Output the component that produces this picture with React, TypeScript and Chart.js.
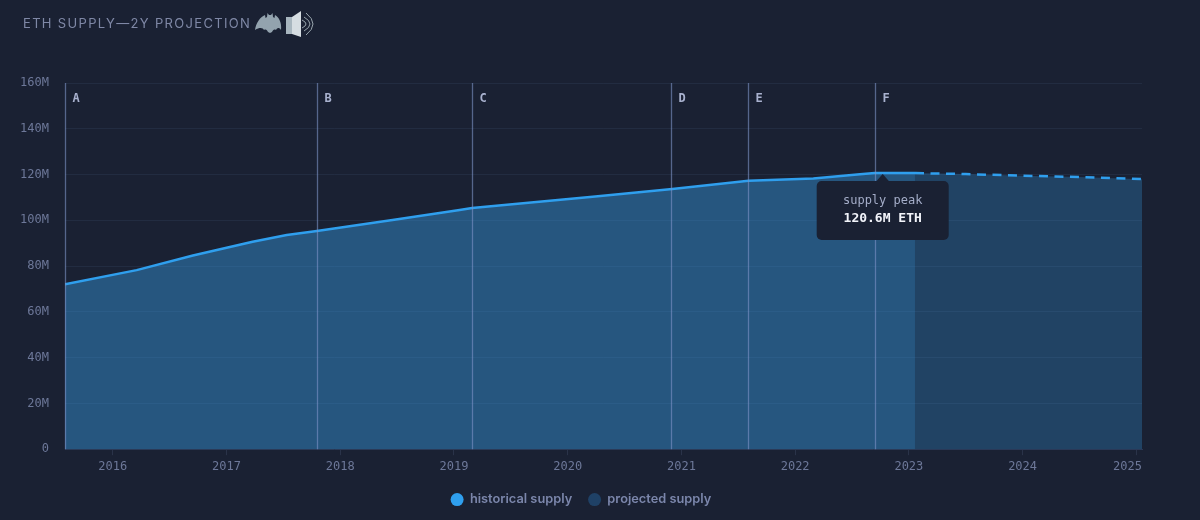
import React, { useEffect, useRef } from "react";
import { Chart, registerables } from "chart.js";

Chart.register(...registerables);

const BG = "#1a2133";
const MONO = '"DejaVu Sans Mono", monospace';

const titleText = "ETH SUPPLY—2Y PROJECTION";
const historicalYears = [2015.58, 2016.21, 2016.705, 2017.23, 2017.53, 2017.795, 2018.46, 2019.05, 2019.16, 2020.22, 2020.92, 2021.59, 2022.16, 2022.57, 2022.7, 2023.054];
const historicalSupply = [72.1, 78.25, 84.6, 90.6, 93.6, 95.3, 100.1, 104.5, 105.35, 110.3, 113.7, 117.3, 118.3, 120.1, 120.65, 120.65];
const projectedYears = [2023.054, 2023.5, 2024.0, 2024.5, 2025.05];
const projectedSupply = [120.65, 120.2, 119.5, 118.9, 118.0];
const yTicks = [0, 20, 40, 60, 80, 100, 120, 140, 160];
const xTicks = [2016, 2017, 2018, 2019, 2020, 2021, 2022, 2023, 2024, 2025];
const lastTickLabel = "2025";
const eventLabels = ["A", "B", "C", "D", "E", "F"];
const eventYears = [2015.58, 2017.795, 2019.155, 2020.91, 2021.585, 2022.705];
const peakLabel = "supply peak";
const peakValue = "120.6M ETH";
const peakYear = 2022.77;
const peakSupply = 120.65;
const legendNames = ["historical supply", "projected supply"];
const legendColors = ["#2f9fee", "#1f4166"];

const overlay = {
  id: "overlay",
  afterDatasetsDraw(chart: any) {
    const { ctx, chartArea, scales } = chart;
    ctx.save();
    eventYears.forEach((yr, i) => {
      const x = Math.round(scales.x.getPixelForValue(yr)) + 0.5;
      ctx.strokeStyle = "rgba(126,148,200,0.6)";
      ctx.lineWidth = 1.3;
      ctx.beginPath();
      ctx.moveTo(x, chartArea.top);
      ctx.lineTo(x, chartArea.bottom);
      ctx.stroke();
      ctx.fillStyle = "#a9b2cf";
      ctx.font = `bold 12px ${MONO}`;
      ctx.textAlign = "left";
      ctx.textBaseline = "middle";
      ctx.fillText(eventLabels[i], x + 7, chartArea.top + 16);
    });
    // last x label sits inside the plot edge
    ctx.fillStyle = "#6d7899";
    ctx.font = `12px ${MONO}`;
    ctx.textAlign = "right";
    ctx.textBaseline = "middle";
    ctx.fillText(lastTickLabel, chartArea.right, chartArea.bottom + 18);
    // tooltip
    const px = scales.x.getPixelForValue(peakYear);
    const py = scales.y.getPixelForValue(peakSupply);
    const w = 132, h = 59, top = py + 8;
    const left = px - w / 2;
    ctx.fillStyle = BG;
    ctx.beginPath();
    ctx.roundRect(left, top, w, h, 5);
    ctx.fill();
    ctx.beginPath();
    ctx.moveTo(px - 7, top + 1);
    ctx.lineTo(px, top - 7);
    ctx.lineTo(px + 7, top + 1);
    ctx.closePath();
    ctx.fill();
    ctx.textAlign = "center";
    ctx.textBaseline = "middle";
    ctx.fillStyle = "#a4adc8";
    ctx.font = `12px ${MONO}`;
    ctx.fillText(peakLabel, px, top + 20);
    ctx.fillStyle = "#f2f4fa";
    ctx.font = `bold 13px ${MONO}`;
    ctx.fillText(peakValue, px, top + 38);
    ctx.restore();
  },
};

export default function App() {
  const ref = useRef<HTMLCanvasElement>(null);
  useEffect(() => {
    document.body.style.margin = "0";
    document.body.style.background = BG;
    const chart = new Chart(ref.current as HTMLCanvasElement, {
      type: "line",
      data: {
        datasets: [
          {
            label: legendNames[0],
            data: historicalYears.map((x, i) => ({ x, y: historicalSupply[i] })),
            borderColor: "#2f9fee",
            backgroundColor: "rgba(55,159,234,0.42)",
            borderWidth: 2.5,
            pointRadius: 0,
            fill: "origin",
            tension: 0,
            borderJoinStyle: "round",
          },
          {
            label: legendNames[1],
            data: projectedYears.map((x, i) => ({ x, y: projectedSupply[i] })),
            borderColor: "#2f9fee",
            backgroundColor: "rgba(55,159,234,0.27)",
            borderWidth: 2.5,
            borderDash: [9, 6.5],
            pointRadius: 0,
            fill: "origin",
            tension: 0,
          },
        ],
      } as any,
      options: {
        responsive: false,
        animation: false,
        devicePixelRatio: 1,
        layout: { padding: { top: 83, right: 58, left: 20, bottom: 4 } },
        plugins: {
          title: { display: false },
          tooltip: { enabled: false },
          legend: {
            position: "bottom",
            labels: {
              usePointStyle: true,
              pointStyle: "circle",
              boxWidth: 13,
              boxHeight: 9.2,
              padding: 16,
              color: "#7b86ab",
              font: { family: "Inter", size: 12.8, weight: "600" },
              generateLabels: () =>
                legendNames.map((text, i) => ({
                  text,
                  fillStyle: legendColors[i],
                  strokeStyle: legendColors[i],
                  lineWidth: 0,
                  pointStyle: "circle",
                  fontColor: "#7b86ab",
                  datasetIndex: i,
                })),
            },
          },
        },
        scales: {
          x: {
            type: "linear",
            min: 2015.58,
            max: 2025.05,
            afterBuildTicks: (s: any) => {
              s.ticks = xTicks.map((value) => ({ value }));
            },
            afterFit: (s: any) => {
              s.height = 28;
            },
            border: { color: "#2b3a58", width: 1 },
            grid: { drawOnChartArea: false, drawTicks: true, tickLength: 6, color: "#2a3349" },
            ticks: {
              color: "#6d7899",
              font: { family: MONO, size: 12 },
              autoSkip: false,
              maxRotation: 0,
              padding: 4,
              callback: (v: any) => (String(v) === lastTickLabel ? "" : String(v)),
            },
          },
          y: {
            min: 0,
            max: 160,
            afterBuildTicks: (s: any) => {
              s.ticks = yTicks.map((value) => ({ value }));
            },
            afterFit: (s: any) => {
              s.width = 45;
            },
            border: { display: false },
            grid: { color: "rgba(72,92,125,0.2)", drawTicks: false },
            ticks: {
              color: "#6d7899",
              font: { family: MONO, size: 12 },
              padding: 16,
              callback: (v: any) => (v === 0 ? "0" : `${v}M`),
            },
          },
        },
      } as any,
      plugins: [overlay as any],
    });
    return () => chart.destroy();
  }, []);

  return (
    <div style={{ position: "relative", width: 1200, height: 520, background: BG, overflow: "hidden" }}>
      <canvas ref={ref} width={1200} height={520} style={{ display: "block" }} />
      <div
        style={{
          position: "absolute",
          left: 23,
          top: 14,
          font: "13px Inter, sans-serif",
          letterSpacing: "1.33px",
          color: "#7f88a6",
          lineHeight: "19px",
          whiteSpace: "nowrap",
        }}
      >
        {titleText}
      </div>
      <svg style={{ position: "absolute", left: 254, top: 9 }} width="62" height="30" viewBox="0 0 62 30">
        <path
          d="M1 21 C2 14 6 8 11 6 L11.5 9 L13 8 L13.5 4 L15 6 L17 6 L18.5 4 L19 8 L20.5 9 L21 6 C25 8 28 14 27 21 C25 18 23 19 22 21 C20 20 19 21 18 23 L16 24 L14 23 C13 21 12 20 10 21 C9 19 6 18 1 21 Z"
          fill="#93a3ae"
        />
        <path d="M32 8 L38 8 L38 25 L32 25 Z" fill="#a8b6bf" />
        <path d="M38 8 L47 2 L47 28 L38 25 Z" fill="#d6dde2" />
        <path d="M48 11 Q56 15 48 19" fill="none" stroke="#9aa6ae" strokeWidth="1" />
        <path d="M50 8 Q62 15 50 22" fill="none" stroke="#9aa6ae" strokeWidth="1" />
        <path d="M52 4 Q66 15 52 26" fill="none" stroke="#9aa6ae" strokeWidth="1" />
      </svg>
    </div>
  );
}
